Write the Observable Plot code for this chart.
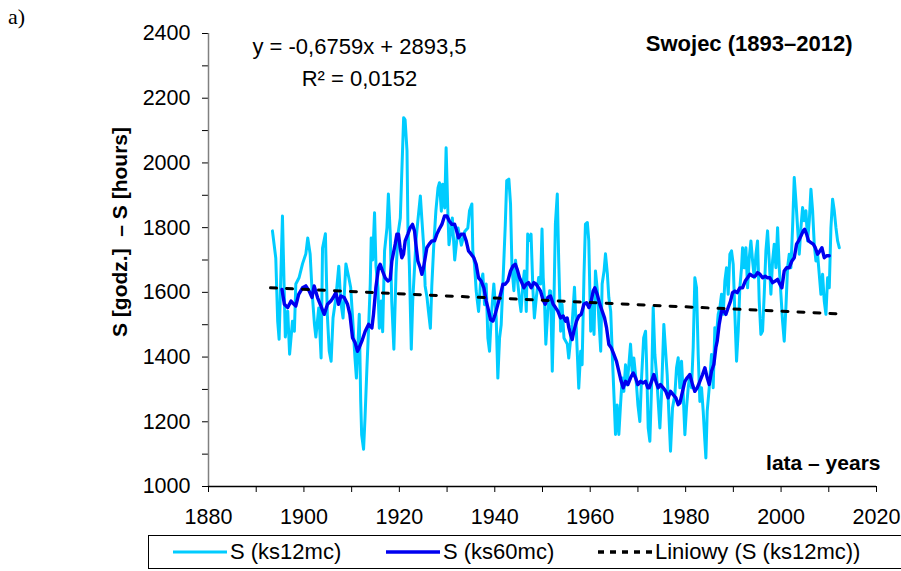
<!DOCTYPE html>
<html><head><meta charset="utf-8">
<script src="https://cdn.jsdelivr.net/npm/d3@7"></script>
<script src="https://cdn.jsdelivr.net/npm/@observablehq/plot@0.6"></script>
<style>
body{margin:0;background:#fff;font-family:"Liberation Sans",Arial,sans-serif;}
#wrap{position:relative;width:901px;height:571px;overflow:hidden;background:#fff;}
#panel{position:absolute;left:8px;top:4px;font-family:"Liberation Serif","Times New Roman",serif;font-size:22px;}
#chart{position:absolute;left:0;top:0;}
#legend{position:absolute;left:148px;top:535px;width:760px;height:34px;border:1px solid #000;box-sizing:border-box;}
.item{position:absolute;top:0;height:32px;display:flex;align-items:center;font-size:22px;white-space:nowrap;}
.item svg{margin-right:3px;}
</style></head>
<body>
<div id="wrap">
  <div id="chart"></div>
  <div id="panel">a)</div>
  <div id="legend"></div>
</div>
<script>
// ---- data ----
const k12Years = [1893.4,1894.1,1894.5,1894.8,1895.5,1896.1,1896.6,1897.0,1897.6,1898.0,1898.3,1899.0,1899.7,1900.4,1900.8,1901.3,1901.7,1902.2,1902.5,1903.1,1903.6,1903.9,1904.5,1904.9,1905.3,1905.7,1906.1,1906.7,1907.3,1907.7,1908.2,1908.8,1909.4,1909.8,1910.2,1910.7,1911.0,1911.6,1911.9,1912.1,
1912.5,1912.8,1913.2,1913.5,1913.9,1914.1,1914.4,1914.8,1915.1,1915.5,1915.8,1916.2,1916.5,1916.9,1917.4,1917.7,1918.1,1918.4,1918.85,1919.3,1919.7,1920.2,1920.5,1920.9,1921.2,1921.6,1921.8,1922.1,1922.5,1922.8,1923.2,1923.5,1923.9,1924.4,1924.7,1925.1,1925.4,1925.8,1926.1,1926.5,1926.8,1927.2,1927.65,1928.1,1928.4,1928.8,1929.05,1929.5,1929.8,1930.2,1930.4,1930.9,1931.1,
1931.6,1932.3,1933.0,1933.7,1934.35,1934.7,1935.2,1935.4,1935.75,1936.1,1936.6,1937.0,1937.5,1937.85,1938.2,1938.55,1938.9,1939.25,1939.8,1940.3,1940.64,1941.0,1941.34,1941.7,1942.2,1942.5,1942.95,1943.3,1943.6,1944.0,1944.35,1944.84,1945.2,1945.5,1945.9,1946.2,1946.6,1946.9,1947.3,1947.6,1948.0,1948.3,1948.7,1949.2,1949.6,1949.9,1950.15,1950.4,1950.7,1951.1,1951.5,
1951.7,1952.05,1952.4,1952.7,1953.1,1953.4,1953.8,1954.1,1954.5,1955.2,1955.5,1956.2,1956.7,1957.1,1957.6,1958.0,1958.3,1958.7,1959.0,1959.4,1959.7,1960.1,1960.4,1960.8,1961.1,1961.5,1961.8,1962.2,1962.5,1962.9,1963.2,1963.6,1963.9,1964.3,1964.6,1965.0,1965.3,1965.65,1966.0,1966.35,1966.7,1967.05,1967.4,1967.75,1968.1,1968.45,1968.8,1969.15,1969.7,1970.0,1970.4,1970.76,1971.2,1971.6,
1971.8,1972.15,1972.5,1972.85,1973.2,1973.55,1973.9,1974.25,1974.6,1974.94,1975.43,1975.85,1976.13,1976.55,1976.83,1977.25,1977.74,1978.09,1978.44,1978.79,1979.14,1979.49,1979.84,1980.18,1980.53,1980.88,1981.23,1981.58,1981.93,1982.28,1982.63,1982.98,1983.33,1983.68,1984.03,1984.24,1984.52,1984.94,1985.42,1985.77,1986.12,1986.47,1986.82,1987.17,1987.52,1987.87,1988.22,1988.57,1988.92,1989.27,1989.62,1989.97,1990.32,1990.67,1991.02,1991.36,1991.71,
1991.93,1992.28,1992.63,1992.98,1993.33,1993.68,1994.03,1994.38,1994.73,1995.07,1995.42,1995.77,1996.12,1996.47,1996.82,1997.17,1997.52,1997.87,1998.22,1998.57,1998.92,1999.27,1999.62,1999.97,2000.31,2000.66,2001.01,2001.36,2001.71,2002.06,2002.41,2002.76,2003.11,2003.46,2003.81,2004.16,2004.51,2004.86,2005.21,2005.56,2005.91,2006.26,2006.61,2006.95,2007.30,2007.65,2008.00,2008.35,2008.70,2009.05,2009.40,2009.75,2010.10,2010.45,2010.80,2011.15,2011.50,2011.85,2012.20];
const k12Values = [1790,1706,1511,1455,1836,1462,1542,1409,1511,1480,1626,1646,1688,1719,1768,1719,1605,1502,1462,1552,1397,1737,1781,1532,1419,1387,1521,1584,1681,1574,1521,1688,1646,1615,1521,1397,1335,1532,1263,1160,
1115,1211,1366,1471,1626,1768,1700,1846,1681,1615,1489,1573,1478,1728,1799,1904,1778,1573,1424,1660,1778,1830,1966,2140,2133,2038,1799,1681,1424,1573,1681,1763,1825,1898,1830,1742,1620,1584,1541,1489,1620,1742,1851,1923,1939,1851,1934,1861,2047,1830,1747,1799,1830,
1700,1799,1746,1788,1799,1852,1873,1726,1688,1605,1541,1626,1657,1562,1626,1459,1418,1521,1626,1521,1335,1459,1500,1626,1809,1945,1950,1873,1678,1605,1699,1626,1574,1541,1626,1666,1541,1780,1760,1780,1605,1521,1584,1646,1626,1796,1646,1584,1440,1541,1605,
1604,1356,1573,1811,1904,1697,1480,1563,1459,1440,1397,1500,1616,1480,1304,1418,1376,1656,1811,1816,1760,1480,1563,1470,1666,1605,1521,1418,1626,1666,1719,1656,1584,1541,1418,1273,1161,1252,1161,1252,1335,1294,1376,1314,1376,1440,1356,1397,1314,1252,1201,1335,1459,1480,
1387,1181,1140,1305,1553,1408,1346,1263,1181,1284,1501,1408,1346,1202,1109,1243,1284,1367,1398,1305,1387,1284,1160,1243,1305,1346,1305,1429,1645,1614,1408,1263,1305,1233,1140,1088,1233,1305,1408,1305,1491,1470,1532,1553,1594,1532,1635,1676,1594,1718,1728,1687,1532,1387,1480,1614,1676,
1738,1676,1738,1614,1707,1759,1697,1645,1718,1759,1573,1470,1480,1594,1728,1790,1697,1594,1697,1749,1676,1800,1676,1594,1511,1449,1552,1676,1718,1676,1800,1955,1883,1800,1718,1800,1862,1821,1852,1759,1821,1919,1852,1749,1697,1718,1656,1594,1656,1573,1532,1645,1614,1800,1888,1852,1800,1759,1738];

const k60Years = [1895.4,1895.9,1896.6,1897.3,1897.6,1898.3,1898.9,1899.7,1900.4,1901.1,1901.7,1902.15,1902.85,1903.55,1904.25,1904.94,1905.64,1906.13,1906.69,1907.25,1907.74,1908.44,1909.14,1909.63,1910.18,1910.74,1911.23,1911.58,
1912.14,1912.84,1913.54,1914.24,1914.58,1915.07,1915.63,1915.98,1916.47,1917.03,1917.59,1918.08,1918.43,1919.13,1919.48,1919.82,1920.17,1920.52,1920.87,1921.22,1921.78,1922.27,1922.76,1923.18,1923.46,1923.88,1924.37,1924.72,1925.06,1925.41,1925.76,1926.25,1926.81,1927.37,1927.86,1928.35,1928.91,1929.47,1929.96,1930.44,1931.00,
1931.56,1931.91,1932.40,1932.96,1933.52,1934.01,1934.49,1935.05,1935.61,1936.10,1936.59,1937.15,1937.71,1938.20,1938.55,1939.11,1939.60,1940.08,1940.64,1941.20,1941.69,1942.18,1942.74,1943.30,1943.79,1944.28,1944.70,1945.19,1945.67,1946.09,1946.58,1947.07,1947.63,1948.19,1948.68,1949.17,1949.59,1950.08,1950.56,1951.12,
1951.68,1952.24,1952.73,1953.22,1953.78,1954.34,1954.82,1955.17,1955.52,1955.87,1956.22,1956.57,1957.13,1957.62,1958.11,1958.67,1959.23,1959.72,1960.20,1960.62,1960.97,1961.46,1962.02,1962.51,1963.00,1963.42,1963.91,1964.40,1964.96,1965.51,1966.00,1966.49,1966.91,1967.40,1967.89,1968.45,1969.01,1969.50,1969.99,1970.54,1971.10,1971.59,
1972.08,1972.36,1972.85,1973.34,1973.76,1974.25,1974.73,1975.29,1975.85,1976.34,1976.83,1977.39,1977.95,1978.44,1978.79,1979.35,1979.84,1980.32,1980.88,1981.44,1981.93,1982.42,1982.98,1983.54,1984.03,1984.52,1984.94,1985.42,1985.91,1986.33,1986.61,1987.03,1987.52,1988.01,1988.43,1988.92,1989.41,1989.83,1990.32,1990.80,1991.36,
1991.93,1992.49,1992.98,1993.47,1994.03,1994.59,1995.07,1995.56,1996.12,1996.68,1997.17,1997.66,1998.22,1998.78,1999.27,1999.76,2000.17,2000.66,2001.15,2001.71,2002.27,2002.76,2003.25,2003.67,2004.16,2004.65,2004.93,2005.35,2005.77,2006.26,2006.75,2007.17,2007.65,2008.14,2008.56,2009.05,2009.54,2010.10];
const k60Values = [1609,1563,1553,1573,1568,1558,1594,1614,1620,1604,1584,1620,1584,1558,1532,1563,1573,1584,1599,1563,1589,1584,1563,1532,1460,1444,1418,1429,
1449,1480,1501,1490,1532,1614,1676,1687,1666,1645,1635,1640,1697,1749,1780,1780,1738,1707,1718,1759,1780,1800,1810,1790,1749,1697,1676,1656,1676,1707,1738,1749,1759,1759,1780,1795,1810,1836,1836,1821,1810,
1811,1795,1769,1780,1780,1759,1728,1718,1707,1687,1645,1635,1614,1573,1553,1516,1511,1532,1563,1594,1625,1625,1635,1666,1681,1687,1671,1645,1630,1614,1625,1630,1614,1630,1625,1614,1604,1578,1563,1584,
1589,1563,1553,1542,1521,1527,1511,1521,1491,1470,1454,1480,1511,1527,1532,1563,1568,1553,1573,1604,1614,1594,1563,1542,1521,1491,1439,1429,1408,1387,1356,1325,1305,1325,1315,1336,1351,1336,1315,1325,1320,1325,
1305,1305,1325,1346,1325,1305,1315,1305,1294,1274,1294,1284,1274,1253,1258,1294,1325,1336,1346,1315,1294,1305,1325,1346,1367,1336,1315,1356,1377,1429,1449,1501,1542,1542,1532,1553,1573,1599,1604,1599,1614,
1614,1635,1645,1656,1650,1650,1661,1656,1645,1650,1645,1645,1630,1635,1640,1625,1614,1666,1676,1676,1697,1707,1749,1759,1774,1790,1795,1780,1759,1754,1749,1738,1718,1728,1738,1707,1713,1713];

// linear trend as printed on the chart: y = -0,6759x + 2893,5
const trendSlope = -0.6759;
const trendIntercept = 2893.5;
const trendYears = [1893, 2012];

const yMajor = [1000,1200,1400,1600,1800,2000,2200,2400];
const yMinor = [1100,1300,1500,1700,1900,2100,2300];
const xMajor = [1880,1900,1920,1940,1960,1980,2000,2020];
const xMinor = [1890,1910,1930,1950,1970,1990,2010];

const seriesNames = ["S (ks12mc)", "S (ks60mc)", "Liniowy (S (ks12mc))"];
const equationText = "y = -0,6759x + 2893,5";
const r2Text = "R² = 0,0152";
const titleText = "Swojec (1893–2012)";
const yLabel = "S [godz.]\u00a0 – S [hours]";
const xLabel = "lata – years";

// ---- build tables ----
const k12 = k12Years.map((y, i) => ({year: y, value: k12Values[i]}));
const k60 = k60Years.map((y, i) => ({year: y, value: k60Values[i]}));
const trend = trendYears.map(y => ({year: y, value: trendSlope * y + trendIntercept}));

const colors = ["#00CCFF", "#0000F0", "#000000"];
const font = "'Liberation Sans', Arial, sans-serif";

const chart = Plot.plot({
  width: 901, height: 530,
  marginLeft: 208, marginRight: 25, marginTop: 33, marginBottom: 44,
  x: {domain: [1880, 2020]},
  y: {domain: [1000, 2400]},
  style: {fontFamily: font, fontSize: "21px", color: "#000", background: "#fff", overflow: "visible"},
  marks: [
    Plot.line(k12, {x: "year", y: "value", stroke: colors[0], strokeWidth: 3}),
    Plot.line(k60, {x: "year", y: "value", stroke: colors[1], strokeWidth: 3.4}),
    Plot.line(trend, {x: "year", y: "value", stroke: colors[2], strokeWidth: 3, strokeDasharray: "6,10"}),
    Plot.axisY({ticks: yMajor, tickSize: 6, tickPadding: 12, tickFormat: d => String(d), label: null, fontSize: 21.5}),
    Plot.axisY({ticks: yMinor, tickSize: 6, tickFormat: () => "", label: null}),
    Plot.axisX({ticks: xMajor, tickSize: 6, tickPadding: 16, tickFormat: d => String(d), label: null, fontSize: 21.5}),
    Plot.axisX({ticks: xMinor, tickSize: 6, tickFormat: () => "", label: null}),
    Plot.ruleX([1880], {stroke: "#808080", strokeWidth: 1.5}),
    Plot.ruleY([1000], {stroke: "#000", strokeWidth: 1.5}),
    Plot.text([yLabel], {frameAnchor: "left", dx: -88, dy: -28, rotate: -90, fontWeight: "bold", fontSize: 21, textAnchor: "middle", lineAnchor: "middle"}),
    Plot.text([equationText], {frameAnchor: "top-left", dx: 151, dy: 13, fontSize: 22, textAnchor: "middle", lineAnchor: "middle"}),
    Plot.text([r2Text], {frameAnchor: "top-left", dx: 151, dy: 45, fontSize: 22, textAnchor: "middle", lineAnchor: "middle"}),
    Plot.text([titleText], {frameAnchor: "top-right", dx: -24, dy: 10, fontSize: 22, fontWeight: "bold", textAnchor: "end", lineAnchor: "middle"}),
    Plot.text([xLabel], {frameAnchor: "bottom-right", dx: 4, dy: -23, fontSize: 21, fontWeight: "bold", textAnchor: "end", lineAnchor: "middle"})
  ]
});
document.getElementById("chart").appendChild(chart);

// ---- legend ----
const legend = document.getElementById("legend");
const itemLeft = [24, 237, 449];
seriesNames.forEach((name, i) => {
  const d = document.createElement("div");
  d.className = "item";
  d.style.left = itemLeft[i] + "px";
  const dash = i === 2 ? 'stroke-dasharray="6,6"' : "";
  const sw = i === 0 ? 3 : 3.4;
  d.innerHTML = `<svg width="54" height="10"><line x1="0" y1="5" x2="54" y2="5" stroke="${colors[i]}" stroke-width="${sw}" ${dash}/></svg><span>${name}</span>`;
  legend.appendChild(d);
});
</script>
</body></html>
